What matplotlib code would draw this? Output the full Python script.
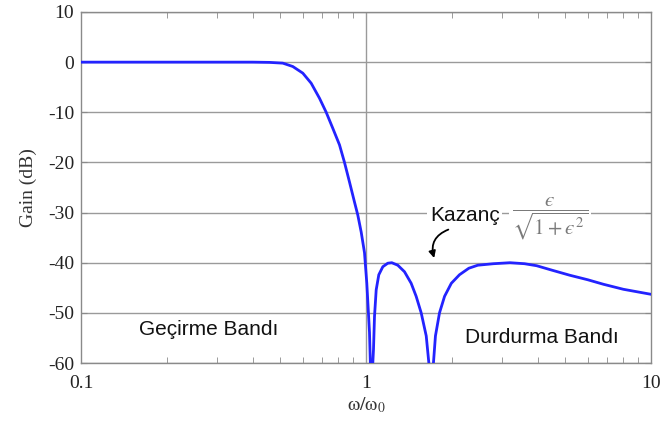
import matplotlib
matplotlib.use("Agg")
import matplotlib.pyplot as plt

plt.rcParams["axes.unicode_minus"] = False

# --- inverse Chebyshev low-pass: gain vs normalised frequency ---
freq_ratio = [0.10, 0.20, 0.30, 0.40, 0.4586, 0.5106, 0.5535, 0.6003, 0.6421, 0.6868,
              0.7250, 0.7648, 0.8073, 0.8405, 0.8751, 0.9112, 0.9359, 0.9620, 0.9879, 1.0065,
              1.0287, 1.038, 1.043, 1.048, 1.0624, 1.0711, 1.0859, 1.109, 1.1456, 1.1925,
              1.2318, 1.2929, 1.3648, 1.4403, 1.4996, 1.5619, 1.6268, 1.6617, 1.6906, 1.7244,
              1.7525, 1.811, 1.8866, 1.9926, 2.1283, 2.2952, 2.4672, 2.8, 3.2, 3.6,
              3.97, 4.5, 5.19, 6.0, 6.81, 8.0, 10.0]
gain_db = [0.0, 0.0, 0.0, 0.0, -0.05, -0.2, -0.87, -2.2, -4.2, -7.2,
           -10.0, -13.2, -16.5, -20.0, -23.9, -27.9, -30.5, -33.9, -38.0, -44.1,
           -53.9, -62.0, -80.0, -64.0, -57.3, -50.7, -45.4, -42.4, -40.8, -40.1,
           -40.0, -40.5, -41.8, -44.1, -46.7, -50.0, -54.6, -60.0, -80.0, -60.0,
           -54.6, -50.0, -46.7, -44.1, -42.4, -41.1, -40.5, -40.2, -40.0, -40.2,
           -40.6, -41.5, -42.5, -43.4, -44.3, -45.3, -46.3]

y_ticks = [10, 0, -10, -20, -30, -40, -50, -60]
x_ticks = [0.1, 1, 10]
x_tick_labels = ["0.1", "1", "10"]

serif = "Liberation Serif"
sans = "Liberation Sans"
grey = "#8a8a8a"

fig = plt.figure(figsize=(6.61, 4.34), dpi=100)
ax = fig.add_axes([81 / 661, 1 - 363 / 434, 570 / 661, 351 / 434])

ax.set_xscale("log")
ax.set_xlim(0.1, 10)
ax.set_ylim(-60, 10)

# horizontal grid plus the cutoff line at w/w0 = 1
for y in y_ticks:
    ax.axhline(y, color="#9a9a9a", lw=1.0, zorder=1)
ax.axvline(1.0, color="#9a9a9a", lw=1.0, zorder=1)

ax.plot(freq_ratio, gain_db, color="#2323ff", lw=2.0, zorder=3,
        solid_joinstyle="round")

for s in ax.spines.values():
    s.set_color(grey)
    s.set_linewidth(1.0)

ax.set_yticks(y_ticks)
ax.set_xticks(x_ticks)
ax.set_xticklabels(x_tick_labels)
ax.set_xticks([0.2, 0.3, 0.4, 0.5, 0.6, 0.7, 0.8, 0.9,
               2, 3, 4, 5, 6, 7, 8, 9], minor=True)
ax.tick_params(axis="both", which="both", direction="in", color=grey,
               top=True, right=True)
ax.tick_params(axis="x", which="minor", length=4, labelbottom=False)
ax.tick_params(axis="x", which="major", length=0, pad=9)
ax.tick_params(axis="y", which="major", length=4, pad=5)
for lab in ax.get_xticklabels() + ax.get_yticklabels():
    lab.set_fontfamily(serif)
    lab.set_fontsize(14)
    lab.set_color("#222222")

ax.set_ylabel("Gain (dB)", family=serif, fontsize=14, color="#333333",
              labelpad=8)
ax.set_xlabel(r"$\mathrm{\omega/\omega_0}$", fontsize=14, color="#333333",
              labelpad=2, math_fontfamily="stix")

# band labels
ax.text(0.281, -54.5, "Geçirme Bandı", family=sans, fontsize=15,
        color="#111111", ha="center", va="baseline", zorder=4)
ax.text(4.15, -56.0, "Durdurma Bandı", family=sans, fontsize=15,
        color="#111111", ha="center", va="baseline", zorder=4)

# stopband ripple annotation
ax.text(1.677, -31.6, "Kazanç", family=sans, fontsize=15, color="#111111",
        ha="left", va="baseline", zorder=4,
        bbox=dict(facecolor="white", edgecolor="none", pad=2))
ax.text(4.42, -31.2, r"$\dfrac{ϵ}{\sqrt{1+ϵ^2}}$",
        fontsize=15, color="#7a7a7a", ha="center", va="center", zorder=4,
        math_fontfamily="stix",
        bbox=dict(facecolor="white", edgecolor="none", pad=2))
ax.annotate("", xy=(1.746, -39.6), xytext=(1.986, -33.2),
            arrowprops=dict(arrowstyle="-|>", color="black", lw=1.3,
                            mutation_scale=10,
                            connectionstyle="arc3,rad=0.5"),
            zorder=5)

fig.savefig("out.png", dpi=100)
